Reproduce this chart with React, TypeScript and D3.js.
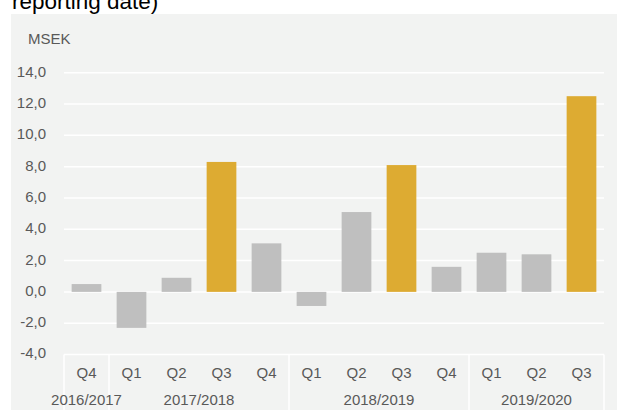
import * as d3 from 'd3'

const W = 617
const H = 410

const quarters = ['Q4', 'Q1', 'Q2', 'Q3', 'Q4', 'Q1', 'Q2', 'Q3', 'Q4', 'Q1', 'Q2', 'Q3']
const values = [0.5, -2.3, 0.9, 8.3, 3.1, -0.9, 5.1, 8.1, 1.6, 2.5, 2.4, 12.5]
const years = ['2016/2017', '2017/2018', '2018/2019', '2019/2020']
const yearStart = [0, 1, 5, 9]
const yearEnd = [0, 4, 8, 11]
const yTicks = [-4, -2, 0, 2, 4, 6, 8, 10, 12, 14]

const GREY = '#bfbfbf'
const GOLD = '#ddab32'
const TEXT = '#595959'
const FONT = '"Liberation Sans", Arial, sans-serif'

// swedish style: comma decimals, plain hyphen for minus
const fmt = (t: number) => t.toFixed(1).replace('.', ',')

export default function App() {
  const m = { left: 64, right: 604, top: 72.7, bottom: 354.5 }

  const x = d3.scaleBand<number>()
    .domain(d3.range(quarters.length))
    .range([m.left, m.right])
    .paddingInner(0.34)
    .paddingOuter(0.17)
  const y = d3.scaleLinear().domain([-4, 14]).range([m.bottom, m.top])

  const gap = (x.step() - x.bandwidth()) / 2
  const edge = (i: number) => (i >= quarters.length ? m.right : (x(i) as number) - gap)

  return (
    <svg width={W} height={H} style={{ position: 'absolute', left: 0, top: 0 }} fontFamily={FONT}>
      <text x={12} y={9} fontSize={22.5} fill="#000">reporting date)</text>
      <rect x={11} y={14} width={W - 11} height={H - 14} fill="#f2f3f2" />

      <text x={28} y={40} fontSize={15} fill={TEXT} dominantBaseline="middle">MSEK</text>

      {yTicks.map(t => (
        <g key={t}>
          <line x1={m.left} x2={m.right} y1={y(t)} y2={y(t)} stroke="#fff" strokeWidth={1.5} />
          <text x={46} y={y(t)} fontSize={15} fill={TEXT} textAnchor="end" dominantBaseline="middle">
            {fmt(t)}
          </text>
        </g>
      ))}

      {values.map((v, i) => (
        <rect
          key={i}
          x={x(i)}
          width={x.bandwidth()}
          y={y(Math.max(0, v))}
          height={Math.abs(y(v) - y(0))}
          fill={quarters[i] === 'Q3' ? GOLD : GREY}
        />
      ))}

      {yearStart.map((s, k) => (
        <line key={'s' + k} x1={edge(s)} x2={edge(s)} y1={m.bottom} y2={H} stroke="#fff" strokeWidth={1.5} />
      ))}
      <line x1={m.right} x2={m.right} y1={m.bottom} y2={H} stroke="#fff" strokeWidth={1.5} />

      {quarters.map((q, i) => (
        <text key={'q' + i} x={(x(i) as number) + x.bandwidth() / 2} y={374} fontSize={15} fill={TEXT}
          textAnchor="middle" dominantBaseline="middle">{q}</text>
      ))}

      {years.map((yr, k) => (
        <text key={yr} x={(edge(yearStart[k]) + edge(yearEnd[k] + 1)) / 2} y={401} fontSize={15} fill={TEXT}
          textAnchor="middle" dominantBaseline="middle">{yr}</text>
      ))}
    </svg>
  )
}
